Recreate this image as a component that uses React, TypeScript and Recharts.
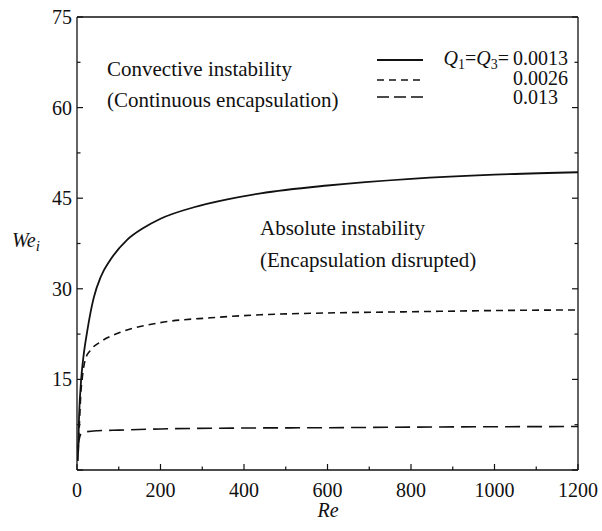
import { LineChart, Line, XAxis, YAxis } from "recharts";

// Re on x, We_i on y, one curve per Q1 = Q3 value
const reLow = [2, 5, 10, 15, 25, 40, 57, 80, 120, 160, 200, 280, 360, 440, 600, 800, 1000, 1200];
const weLow = [1.5, 9, 15, 18.5, 23.2, 28.5, 32, 34.8, 38.1, 40.1, 41.6, 43.5, 44.8, 45.8, 47.1, 48.2, 48.9, 49.3];

const reMid = [3, 6, 9, 13, 20, 32, 56, 104, 200, 320, 440, 600, 800, 1000, 1200];
const weMid = [3, 8, 12.5, 15.5, 18.3, 19.8, 21.2, 22.8, 24.4, 25.2, 25.7, 26.0, 26.2, 26.4, 26.5];

const reHigh = [2, 5, 10, 20, 50, 100, 200, 400, 600, 800, 1200];
const weHigh = [3.5, 5, 6.0, 6.3, 6.5, 6.6, 6.8, 6.95, 7.0, 7.1, 7.2];

const xTicks = [0, 100, 200, 300, 400, 500, 600, 700, 800, 900, 1000, 1100, 1200];
const yTicks = [0, 7.5, 15, 22.5, 30, 37.5, 45, 52.5, 60, 67.5, 75];

const qLabels = ["0.0013", "0.0026", "0.013"];

const toRows = (re: number[], we: number[]) => re.map((r, i) => ({ re: r, we: we[i] }));

const FONT = "'Liberation Serif', 'DejaVu Serif', serif";
const INK = "#111";

const isMajorX = (v: number) => v % 200 === 0;
const isMajorY = (v: number) => v % 15 === 0;

function BottomTick(p: any) {
  const { x, y, payload } = p;
  const major = isMajorX(payload.value);
  return (
    <g>
      <line x1={x} x2={x} y1={y} y2={y - (major ? 6 : 3.5)} stroke={INK} strokeWidth={1.2} />
      {major && (
        <text x={x} y={y + 27} textAnchor="middle" style={{ fontFamily: FONT, fontSize: 20 }} fill={INK}>
          {payload.value}
        </text>
      )}
    </g>
  );
}

function TopTick(p: any) {
  const { x, y, payload } = p;
  const major = isMajorX(payload.value);
  return <line x1={x} x2={x} y1={y} y2={y + (major ? 6 : 3.5)} stroke={INK} strokeWidth={1.2} />;
}

function LeftTick(p: any) {
  const { x, y, payload } = p;
  const major = isMajorY(payload.value);
  return (
    <g>
      <line x1={x} x2={x + (major ? 6 : 3.5)} y1={y} y2={y} stroke={INK} strokeWidth={1.2} />
      {major && payload.value > 0 && (
        <text x={x - 5} y={y + 7} textAnchor="end" style={{ fontFamily: FONT, fontSize: 20 }} fill={INK}>
          {payload.value}
        </text>
      )}
    </g>
  );
}

function RightTick(p: any) {
  const { x, y, payload } = p;
  const major = isMajorY(payload.value);
  return <line x1={x} x2={x - (major ? 6 : 3.5)} y1={y} y2={y} stroke={INK} strokeWidth={1.2} />;
}

export default function App() {
  const note = { fontFamily: FONT, fontSize: 21 };
  const small = { fontFamily: FONT, fontSize: 20 };
  const axisLine = { stroke: INK, strokeWidth: 1.3 };
  return (
    <div style={{ position: "absolute", left: 0, top: 0, background: "#fff", fontFamily: FONT }}>
      <LineChart width={602} height={531} margin={{ top: 16, right: 23, bottom: 60, left: 76 }}>
        <XAxis
          dataKey="re"
          type="number"
          domain={[0, 1200]}
          ticks={xTicks}
          interval={0}
          height={1}
          tickSize={0}
          tickMargin={0}
          tick={BottomTick}
          axisLine={axisLine}
          allowDataOverflow
        />
        <XAxis
          xAxisId="top"
          orientation="top"
          type="number"
          domain={[0, 1200]}
          ticks={xTicks}
          interval={0}
          height={1}
          tickSize={0}
          tickMargin={0}
          tick={TopTick}
          axisLine={axisLine}
          allowDataOverflow
        />
        <YAxis
          type="number"
          domain={[0, 75]}
          ticks={yTicks}
          interval={0}
          width={1}
          tickSize={0}
          tickMargin={0}
          tick={LeftTick}
          axisLine={axisLine}
          allowDataOverflow
        />
        <YAxis
          yAxisId="right"
          orientation="right"
          type="number"
          domain={[0, 75]}
          ticks={yTicks}
          interval={0}
          width={1}
          tickSize={0}
          tickMargin={0}
          tick={RightTick}
          axisLine={axisLine}
          allowDataOverflow
        />

        <Line data={toRows(reLow, weLow)} dataKey="we" type="monotone" stroke={INK} strokeWidth={1.8} dot={false} isAnimationActive={false} />
        <Line data={toRows(reMid, weMid)} dataKey="we" type="monotone" stroke={INK} strokeWidth={1.6} strokeDasharray="7 5" dot={false} isAnimationActive={false} />
        <Line data={toRows(reHigh, weHigh)} dataKey="we" type="monotone" stroke={INK} strokeWidth={1.6} strokeDasharray="15 7" dot={false} isAnimationActive={false} />

        {/* region notes */}
        <text x={107} y={76} style={note} fill={INK}>Convective instability</text>
        <text x={107} y={107} style={note} fill={INK}>(Continuous encapsulation)</text>
        <text x={260} y={235} style={note} fill={INK}>Absolute instability</text>
        <text x={260} y={267} style={note} fill={INK}>(Encapsulation disrupted)</text>

        {/* legend */}
        <line x1={377} x2={423} y1={60} y2={60} stroke={INK} strokeWidth={1.8} />
        <line x1={377} x2={423} y1={80} y2={80} stroke={INK} strokeWidth={1.6} strokeDasharray="7 5" />
        <line x1={377} x2={423} y1={97} y2={97} stroke={INK} strokeWidth={1.6} strokeDasharray="12 5" />
        <text x={509} y={65} textAnchor="end" style={small} fill={INK}>
          <tspan fontStyle="italic">Q</tspan>
          <tspan fontSize={14} dy={4}>1</tspan>
          <tspan dy={-4}>=</tspan>
          <tspan fontStyle="italic">Q</tspan>
          <tspan fontSize={14} dy={4}>3</tspan>
          <tspan dy={-4}>=</tspan>
        </text>
        <text x={513} y={65} style={small} fill={INK}>{qLabels[0]}</text>
        <text x={513} y={85} style={small} fill={INK}>{qLabels[1]}</text>
        <text x={513} y={104} style={small} fill={INK}>{qLabels[2]}</text>

        {/* axis titles */}
        <text x={12} y={247} style={{ ...small, fontStyle: "italic" }} fill={INK}>
          We<tspan fontSize={15} dy={4}>i</tspan>
        </text>
        <text x={328} y={517} textAnchor="middle" style={{ ...small, fontStyle: "italic" }} fill={INK}>Re</text>
      </LineChart>
    </div>
  );
}
